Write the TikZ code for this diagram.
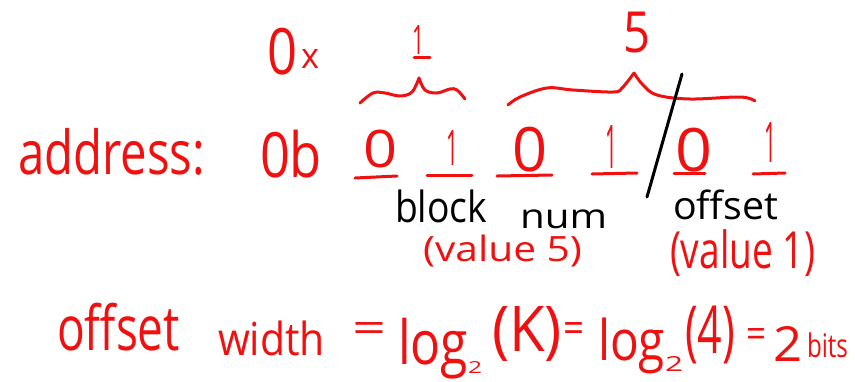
\documentclass[tikz,border=0pt]{standalone}
\usepackage{graphicx}
\usepackage{fontspec}
\setmainfont{Open Sans}
\definecolor{hred}{RGB}{240,16,16}
\newcommand{\fitbox}[3]{\resizebox*{#1pt}{#2pt}{#3}}
\tikzset{
  rtxt/.style={anchor=north west, inner sep=0pt, outer sep=0pt, text=hred},
  ktxt/.style={anchor=north west, inner sep=0pt, outer sep=0pt, text=black},
  rpen/.style={draw=hred, line width=3pt, line cap=round, line join=round},
  kpen/.style={draw=black, line width=3pt, line cap=round}
}
\begin{document}
\begin{tikzpicture}[x=1pt,y=-1pt]
\useasboundingbox (0,0) rectangle (855,381);
% top row
\node[rtxt] (hexzero) at (267,28) {\fitbox{30}{47}{0}};
\node[rtxt] (hexx) at (301,49) {\fitbox{18}{19}{x}};
\node[rtxt] (topone) at (412,25) {\fitbox{12}{29}{1}};
\coordinate (toponeA) at (414,57);
\coordinate (toponeB) at (430,57);
\draw[rpen] (toponeA) -- (toponeB);
\node[rtxt] (topfive) at (623,12) {\fitbox{27}{41}{5}};
% braces
\draw[rpen] plot[smooth, tension=0.6] coordinates {(360,103) (373,93) (385,93) (400,96) (412,92) (419,78)};
\draw[rpen] plot[smooth, tension=0.6] coordinates {(419,78) (425,90) (437,93) (450,89) (457,90) (465,99)};
\draw[rpen] plot[smooth, tension=0.6] coordinates {(508,105) (520,97) (547,88) (573,90) (613,92) (622,88) (634,73)};
\draw[rpen] plot[smooth, tension=0.6] coordinates {(634,73) (643,85) (657,95) (690,99) (740,97) (755,101)};
% address row
\node[rtxt] (addr) at (18,128) {\fitbox{187}{47}{address:}};
\node[rtxt] (zerob) at (260,130) {\fitbox{62}{48}{0b}};
\node[rtxt] (dA) at (363,130) {\fitbox{34}{38}{0}};
\node[rtxt] (dB) at (446,130) {\fitbox{12}{35}{1}};
\node[rtxt] (dC) at (512,127) {\fitbox{35}{45}{0}};
\node[rtxt] (dD) at (605,125) {\fitbox{12}{43}{1}};
\node[rtxt] (dE) at (675,128) {\fitbox{37}{44}{0}};
\node[rtxt] (dF) at (764,122) {\fitbox{12}{40}{1}};
\coordinate (uA1) at (355,178); \coordinate (uA2) at (397,176);
\coordinate (uB1) at (427,175); \coordinate (uB2) at (472,175);
\coordinate (uC1) at (497,176); \coordinate (uC2) at (552,175);
\coordinate (uD1) at (592,174); \coordinate (uD2) at (637,173);
\coordinate (uE1) at (674,173); \coordinate (uE2) at (705,173);
\coordinate (uF1) at (753,174); \coordinate (uF2) at (785,173);
\draw[rpen] (uA1) -- (uA2);
\draw[rpen] (uB1) -- (uB2);
\draw[rpen] (uC1) -- (uC2);
\draw[rpen] (uD1) -- (uD2);
\draw[rpen] (uE1) -- (uE2);
\draw[rpen] (uF1) -- (uF2);
% divider
\coordinate (slashtop) at (682,74);
\coordinate (slashbot) at (647,197);
\draw[kpen] (slashtop) -- (slashbot);
% labels
\node[ktxt] (block) at (395,190) {\fitbox{92}{33}{block}};
\node[ktxt] (num) at (520,210) {\fitbox{87}{19}{num}};
\node[ktxt] (offs) at (673,190) {\fitbox{105}{30}{offset}};
\node[rtxt] (valfive) at (423,235) {\fitbox{159}{32}{(value 5)}};
\node[rtxt] (valone) at (670,230) {\fitbox{145}{47}{(value 1)}};
% bottom formula
\node[rtxt] (boffset) at (57,303) {\fitbox{123}{48}{offset}};
\node[rtxt] (bwidth) at (218,321) {\fitbox{107}{35}{width}};
\node[rtxt] (eqA) at (352,322) {\fitbox{34}{20}{=}};
\node[rtxt] (logA) at (398,318) {\fitbox{70}{61}{log}};
\node[rtxt] (subA) at (468,361) {\fitbox{14}{12}{2}};
\node[rtxt] (argK) at (492,306) {\fitbox{70}{55}{(K)}};
\node[rtxt] (eqB) at (563,322) {\fitbox{21}{20}{=}};
\node[rtxt] (logB) at (598,318) {\fitbox{67}{56}{log}};
\node[rtxt] (subB) at (665,356) {\fitbox{18}{15}{2}};
\node[rtxt] (argF) at (685,306) {\fitbox{50}{58}{(4)}};
\node[rtxt] (eqC) at (746,328) {\fitbox{20}{19}{=}};
\node[rtxt] (two) at (773,326) {\fitbox{29}{35}{2}};
\node[rtxt] (bits) at (807,333) {\fitbox{41}{25}{bits}};
\end{tikzpicture}
\end{document}
